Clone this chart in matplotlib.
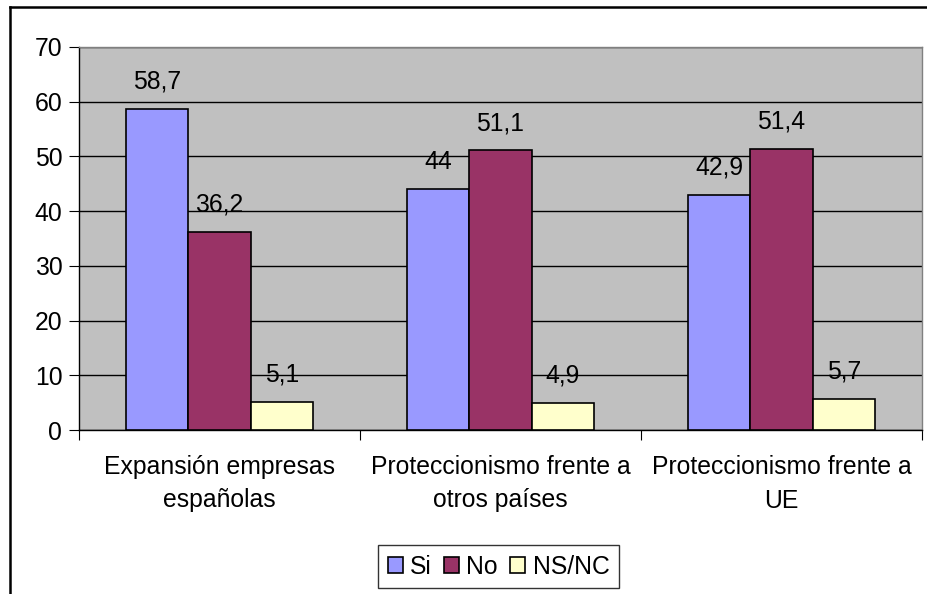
import matplotlib
matplotlib.use("Agg")
import matplotlib.pyplot as plt
from matplotlib.lines import Line2D
import numpy as np

categories = ["Expansión empresas\nespañolas", "Proteccionismo frente a\notros países", "Proteccionismo frente a\nUE"]
series_names = ["Si", "No", "NS/NC"]
si = [58.7, 44, 42.9]
no = [36.2, 51.1, 51.4]
nsnc = [5.1, 4.9, 5.7]
colors = ["#9999FF", "#993366", "#FFFFCC"]
yticks = [0, 10, 20, 30, 40, 50, 60, 70]

plt.rcParams['font.family'] = ['Liberation Sans', 'DejaVu Sans']
FS = 17.8

fig = plt.figure(figsize=(9.27, 5.94), dpi=100)
ax = fig.add_axes([79/927, 1-430/594, (922-79)/927, (430-47)/594])
ax.set_facecolor("#C0C0C0")

x = np.arange(len(categories))
w = 0.222
for i, (vals, name, c) in enumerate(zip([si, no, nsnc], series_names, colors)):
    pos = x + (i - 1) * w
    ax.bar(pos, vals, w, color=c, edgecolor="black", linewidth=1.2, label=name, zorder=3)
    for p, v in zip(pos, vals):
        lab = f"{v:g}".replace(".", ",")
        ax.annotate(lab, (p, v), xytext=(0, 11), textcoords="offset points",
                    ha="center", va="bottom", fontsize=FS)

ax.set_ylim(0, 70)
ax.set_xlim(-0.5, 2.5)
ax.set_yticks(yticks)
ax.set_yticklabels([str(t) for t in yticks], fontsize=FS)
ax.yaxis.grid(True, color="black", linewidth=1, zorder=1)
ax.set_axisbelow(True)
ax.set_xticks([-0.5, 0.5, 1.5, 2.5])
ax.set_xticklabels([])
ax.set_xticks(x, minor=True)
ax.set_xticklabels(categories, minor=True, fontsize=FS, linespacing=1.5)
ax.tick_params(axis="x", which="minor", length=0, pad=18)
ax.tick_params(axis="x", which="major", length=7, direction="out", color="black")
ax.tick_params(axis="y", length=7, direction="out", color="black", pad=5)
for s in ["left", "bottom"]:
    ax.spines[s].set_color("black")
    ax.spines[s].set_linewidth(1)
for s in ["top", "right"]:
    ax.spines[s].set_color("#808080")
    ax.spines[s].set_linewidth(1)

leg = fig.legend(loc="center", bbox_to_anchor=(498.5/927, 1-566.5/594), ncol=3,
                 fontsize=FS, frameon=True, fancybox=False, handlelength=0.6,
                 handleheight=0.6, handletextpad=0.3, columnspacing=0.5,
                 borderpad=0.4, borderaxespad=0)
leg.get_frame().set_edgecolor("black")
leg.get_frame().set_linewidth(1)

# figure border (left and top visible)
fig.add_artist(Line2D([9.5/927, 9.5/927], [0, 1-6.5/594], color="black", linewidth=1.8, transform=fig.transFigure))
fig.add_artist(Line2D([9.5/927, 1], [1-6.5/594, 1-6.5/594], color="black", linewidth=1.8, transform=fig.transFigure))

fig.savefig("out.png", dpi=100)
